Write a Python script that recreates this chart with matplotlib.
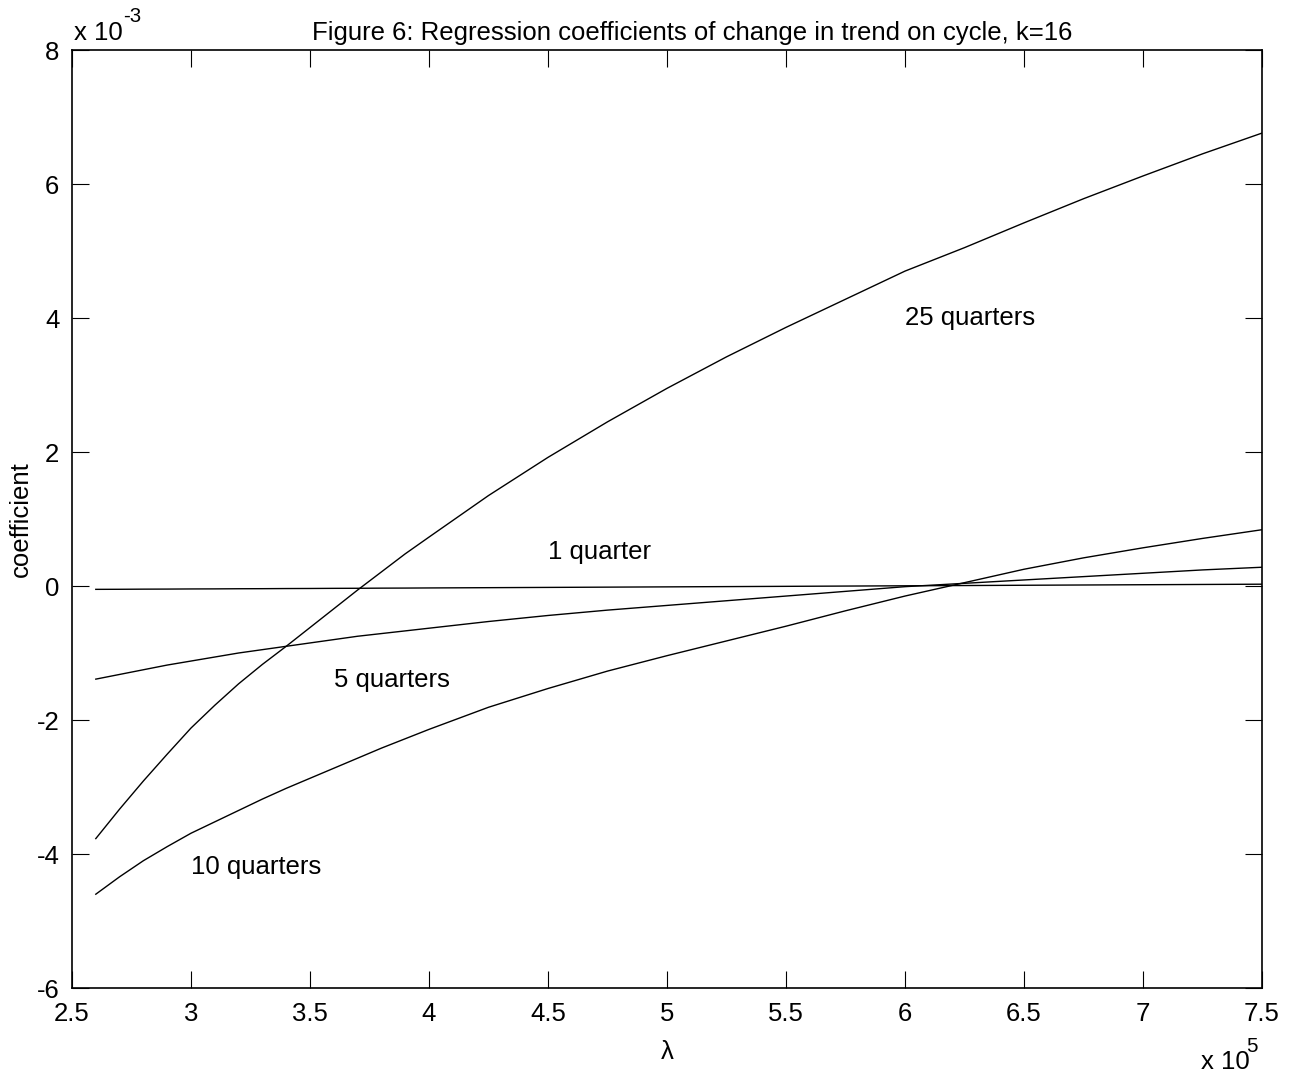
import numpy as np
import matplotlib
matplotlib.use("Agg")
import matplotlib.pyplot as plt

plt.rcParams["font.family"] = ["Liberation Sans", "DejaVu Sans"]

# lambda in units of 1e5, coefficients in units of 1e-3
lam = [2.6, 2.7, 2.8, 2.9, 3.0, 3.1, 3.2, 3.3, 3.4, 3.5, 3.6, 3.7, 3.8, 3.9,
       4.0, 4.25, 4.5, 4.75, 5.0, 5.25, 5.5, 5.75, 6.0, 6.25, 6.5, 6.75, 7.0,
       7.25, 7.5]

q1 = [-0.050, -0.049, -0.047, -0.046, -0.044, -0.043, -0.041, -0.040, -0.038,
      -0.037, -0.035, -0.034, -0.032, -0.031, -0.029, -0.025, -0.021, -0.017,
      -0.013, -0.009, -0.005, -0.001, 0.003, 0.007, 0.011, 0.015, 0.019,
      0.023, 0.027]
q5 = [-1.39, -1.32, -1.25, -1.18, -1.12, -1.06, -1.00, -0.95, -0.90, -0.85,
      -0.80, -0.75, -0.71, -0.67, -0.63, -0.53, -0.44, -0.36, -0.29, -0.22,
      -0.15, -0.08, -0.01, 0.04, 0.09, 0.14, 0.19, 0.24, 0.28]
q10 = [-4.60, -4.34, -4.10, -3.89, -3.69, -3.52, -3.35, -3.18, -3.02, -2.87,
       -2.72, -2.57, -2.42, -2.28, -2.14, -1.81, -1.53, -1.27, -1.04, -0.82,
       -0.60, -0.37, -0.15, 0.05, 0.25, 0.42, 0.57, 0.71, 0.84]
q25 = [-3.77, -3.33, -2.91, -2.51, -2.12, -1.78, -1.46, -1.17, -0.90, -0.62,
       -0.34, -0.06, 0.21, 0.48, 0.73, 1.35, 1.92, 2.45, 2.95, 3.42, 3.86,
       4.28, 4.70, 5.05, 5.42, 5.78, 6.12, 6.45, 6.76]

labels = ["1 quarter", "5 quarters", "10 quarters", "25 quarters"]
label_pos = [(4.5, 0.5), (3.6, -1.4), (3.0, -4.2), (6.0, 4.0)]

xticks = [2.5, 3, 3.5, 4, 4.5, 5, 5.5, 6, 6.5, 7, 7.5]
yticks = [-6, -4, -2, 0, 2, 4, 6, 8]

fs = 18.5

fig = plt.figure(figsize=(12.96, 10.79), dpi=100)
ax = fig.add_axes([72 / 1296, 1 - 988 / 1079, (1262 - 72) / 1296, (988 - 50) / 1079])

for ys in (q1, q5, q10, q25):
    ax.plot(lam, ys, color="black", linewidth=1.0)

for txt, (tx, ty) in zip(labels, label_pos):
    ax.text(tx, ty, txt, fontsize=fs, ha="left", va="center")

ax.set_xlim(2.5, 7.5)
ax.set_ylim(-6, 8)
ax.set_xticks(xticks)
ax.set_xticklabels([f"{t:g}" for t in xticks])
ax.set_yticks(yticks)
ax.set_yticklabels([f"{t:g}" for t in yticks])
ax.tick_params(direction="in", length=12, width=0.8, top=True, right=True,
               labelsize=fs)
ax.tick_params(axis="x", pad=10)
ax.tick_params(axis="y", pad=9)
for s in ax.spines.values():
    s.set_linewidth(1.2)

ax.set_xlabel("λ", fontsize=fs, labelpad=10)
fig.text(21 / 1296, 1 - 519 / 1079, "coefficient", fontsize=fs,
         rotation=90, ha="center", va="center")

fig.text(692 / 1296, 1 - 33 / 1079,
         "Figure 6: Regression coefficients of change in trend on cycle, k=16",
         fontsize=fs, ha="center", va="center")
# MATLAB-style exponent labels
fig.text(74 / 1296, 1 - 33 / 1079, "x 10", fontsize=fs, ha="left", va="center")
fig.text(123 / 1296, 1 - 17 / 1079, "-3", fontsize=fs * 0.8, ha="left", va="center")
fig.text(1201 / 1296, 1 - 1062 / 1079, "x 10", fontsize=fs, ha="left", va="center")
fig.text(1246 / 1296, 1 - 1046 / 1079, "5", fontsize=fs * 0.8, ha="left", va="center")

fig.savefig("out.png", dpi=100, facecolor="white")
